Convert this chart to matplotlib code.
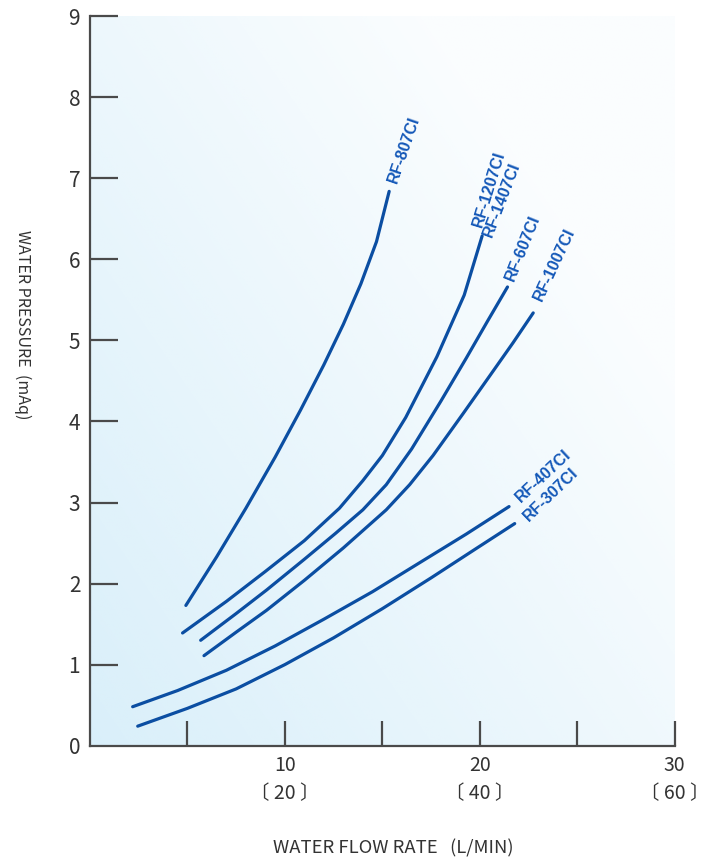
#Water pressure vs water flow rate for the RF series
import matplotlib
matplotlib.use("Agg")
import matplotlib.pyplot as plt
import numpy as np

#Curves (flow L/min, pressure mAq)
rf807_x = [4.92, 6.5, 8.0, 9.5, 10.8, 12.0, 13.0, 13.9, 14.7, 15.35]
rf807_y = [1.73, 2.33, 2.93, 3.56, 4.14, 4.70, 5.20, 5.70, 6.22, 6.84]

rf1207_x = [4.75, 7.0, 9.0, 11.0, 12.8, 14.0, 15.0, 16.2, 17.8, 19.2, 20.12]
rf1207_y = [1.39, 1.78, 2.15, 2.53, 2.93, 3.27, 3.58, 4.05, 4.80, 5.56, 6.29]

rf607_x = [5.68, 7.5, 9.06, 11.0, 12.6, 14.0, 15.2, 16.5, 18.0, 19.3, 20.4, 21.42]
rf607_y = [1.30, 1.63, 1.92, 2.30, 2.62, 2.91, 3.22, 3.66, 4.25, 4.78, 5.24, 5.66]

rf1007_x = [5.85, 7.5, 9.06, 11.0, 13.0, 15.2, 16.4, 17.6, 19.15, 20.5, 21.7, 22.74]
rf1007_y = [1.11, 1.40, 1.67, 2.04, 2.44, 2.91, 3.22, 3.58, 4.10, 4.56, 4.97, 5.34]

rf407_x = [2.19, 4.5, 7.0, 9.5, 12.0, 14.5, 17.0, 19.3, 21.5]
rf407_y = [0.48, 0.68, 0.93, 1.23, 1.56, 1.90, 2.27, 2.61, 2.95]

rf307_x = [2.45, 5.0, 7.5, 10.0, 12.5, 15.0, 17.5, 19.8, 21.79]
rf307_y = [0.24, 0.46, 0.70, 1.00, 1.33, 1.69, 2.07, 2.43, 2.74]

#Label text and where it starts
label_text = ["RF-807CI", "RF-1207CI", "RF-1407CI", "RF-607CI", "RF-1007CI", "RF-407CI", "RF-307CI"]
label_x = [15.55, 19.90, 20.40, 21.55, 22.95, 21.95, 22.35]
label_y = [6.95, 6.40, 6.28, 5.74, 5.50, 3.04, 2.80]
label_rot = [71, 73, 69, 68, 65, 43, 44]

#Axis ticks
x_ticks = [5, 10, 15, 20, 25, 30]
x_tick_labels = ["", "10\n〔 20 〕", "", "20\n〔 40 〕", "", "30\n〔 60 〕"]
y_ticks = [0, 1, 2, 3, 4, 5, 6, 7, 8, 9]

line_color = "#0b4ea2"
text_color = "#1458b8"
axis_color = "#4a4a4a"
fonts = ["Noto Sans CJK JP", "DejaVu Sans"]

fig = plt.figure(figsize=(7.14, 8.6), dpi=100)
ax = fig.add_axes([0.126, 0.133, 0.819, 0.848])

#Light blue wash from the bottom left corner
u, v = np.meshgrid(np.linspace(0, 1, 300), np.linspace(0, 1, 300))
alpha = np.clip(1 - 0.7 * u - 0.6 * v, 0, 1) * 0.55 + 0.08
img = np.zeros((300, 300, 4))
img[..., 0] = 195 / 255
img[..., 1] = 230 / 255
img[..., 2] = 247 / 255
img[..., 3] = np.clip(alpha, 0, 1)
ax.imshow(img, extent=[0, 30, 0, 9], origin="lower", aspect="auto", zorder=0)

for xs, ys in [(rf807_x, rf807_y), (rf1207_x, rf1207_y), (rf607_x, rf607_y),
               (rf1007_x, rf1007_y), (rf407_x, rf407_y), (rf307_x, rf307_y)]:
    ax.plot(xs, ys, color=line_color, lw=2.3, solid_capstyle="round",
            solid_joinstyle="round", zorder=3)

for t, x, y, r in zip(label_text, label_x, label_y, label_rot):
    ax.text(x, y, t, rotation=r, rotation_mode="anchor", ha="left", va="center",
            fontsize=11.5, fontweight="bold", color=text_color,
            family="Liberation Sans", zorder=4)

ax.set_xlim(0, 30)
ax.set_ylim(0, 9)
ax.spines["top"].set_visible(False)
ax.spines["right"].set_visible(False)
for s in ["left", "bottom"]:
    ax.spines[s].set_color(axis_color)
    ax.spines[s].set_linewidth(1.6)

ax.set_xticks(x_ticks)
ax.set_xticklabels(x_tick_labels, family=fonts, fontsize=14, color="#333333",
                   linespacing=1.45)
ax.set_yticks(y_ticks)
ax.set_yticklabels([str(t) for t in y_ticks], fontsize=15, color="#333333", family=fonts)
ax.tick_params(axis="x", direction="in", length=18, width=1.6, color=axis_color, pad=7)
ax.tick_params(axis="y", direction="in", length=20, width=1.6, color=axis_color, pad=7)
ax.yaxis.get_major_ticks()[0].tick1line.set_visible(False)

fig.text(0.551, 0.014, "WATER FLOW RATE   (L/MIN)", ha="center", va="center",
         fontsize=13.3, color="#333333", family=fonts)
fig.text(0.031, 0.622, "WATER PRESSURE  (mAq)", rotation=-90, ha="center", va="center",
         fontsize=11.5, color="#333333", family=fonts)

fig.savefig("out.png", dpi=100, facecolor="white")
